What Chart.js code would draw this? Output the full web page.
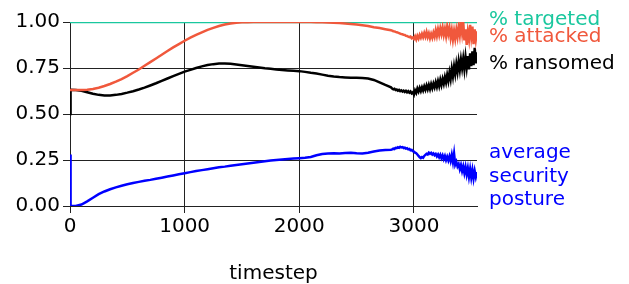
<!DOCTYPE html>
<html>
<head>
<meta charset="utf-8">
<script src="https://cdn.jsdelivr.net/npm/chart.js@4.4.1/dist/chart.umd.min.js"></script>
<style>
  html, body { margin: 0; padding: 0; background: #fff; }
  #wrap { width: 629px; height: 284px; }
</style>
</head>
<body>
<div id="wrap"><canvas id="simChart" width="629" height="284"></canvas></div>
<script>
const timesteps = [
  0, 5, 50, 100, 150, 200, 250, 300, 350, 400,
  450, 500, 550, 600, 650, 700, 750, 800, 850, 900,
  950, 1000, 1050, 1100, 1150, 1200, 1250, 1300, 1350, 1400,
  1450, 1500, 1550, 1600, 1650, 1700, 1750, 1800, 1850, 1900,
  1950, 2000, 2050, 2100, 2150, 2200, 2250, 2300, 2350, 2400,
  2450, 2500, 2550, 2600, 2650, 2700, 2750, 2800,
  2810, 2820, 2830, 2840, 2850, 2860, 2870, 2880, 2890, 2900,
  2910, 2920, 2930, 2940, 2950, 2960, 2970, 2980, 2990, 3000,
  3010, 3020, 3030, 3040, 3050, 3060, 3070, 3080, 3090, 3100,
  3110, 3120, 3130, 3140, 3150, 3160, 3170, 3180, 3190, 3200,
  3210, 3220, 3230, 3240, 3250, 3260, 3270, 3280, 3290, 3300,
  3310, 3320, 3330, 3340, 3350, 3360, 3370, 3380, 3390, 3400,
  3410, 3420, 3430, 3440, 3450, 3460, 3470, 3480, 3490, 3500,
  3510, 3520, 3530, 3540, 3550
];

const targetedSteps = [0, 3550];
const pctTargeted = [1.0, 1.0];

const pctAttacked = [
  0.630, 0.630, 0.630, 0.630, 0.632, 0.636, 0.643, 0.652, 0.663, 0.676,
  0.690, 0.706, 0.724, 0.742, 0.762, 0.782, 0.802, 0.822, 0.842, 0.862,
  0.880, 0.898, 0.915, 0.930, 0.944, 0.957, 0.968, 0.978, 0.986, 0.992,
  0.996, 0.998, 0.999, 1.000, 1.000, 1.000, 1.000, 1.000, 1.000, 1.000,
  1.000, 1.000, 1.000, 1.000, 0.999, 0.998, 0.997, 0.996, 0.994, 0.992,
  0.989, 0.986, 0.982, 0.978, 0.972, 0.967, 0.961, 0.955,
  0.953, 0.950, 0.949, 0.946, 0.944, 0.942, 0.940, 0.937, 0.934, 0.933,
  0.930, 0.929, 0.925, 0.924, 0.920, 0.918, 0.921, 0.912, 0.916, 0.908,
  0.922, 0.905, 0.925, 0.910, 0.930, 0.915, 0.935, 0.918, 0.940, 0.920,
  0.945, 0.918, 0.938, 0.912, 0.935, 0.915, 0.942, 0.920, 0.955, 0.925,
  0.960, 0.930, 0.965, 0.935, 0.970, 0.930, 0.962, 0.925, 0.975, 0.935,
  0.968, 0.915, 0.955, 0.905, 0.950, 0.910, 0.958, 0.920, 0.975, 0.930,
  0.995, 0.940, 1.000, 0.900, 0.960, 0.875, 0.945, 0.905, 0.985, 0.920,
  0.975, 0.880, 0.960, 0.905, 0.950
];

const pctRansomed = [
  0.500, 0.632, 0.631, 0.626, 0.618, 0.610, 0.604, 0.601, 0.601, 0.604,
  0.609, 0.616, 0.624, 0.633, 0.643, 0.655, 0.667, 0.680, 0.693, 0.706,
  0.718, 0.730, 0.740, 0.750, 0.759, 0.766, 0.771, 0.774, 0.775, 0.773,
  0.769, 0.765, 0.761, 0.757, 0.753, 0.749, 0.746, 0.742, 0.739, 0.737,
  0.735, 0.733, 0.729, 0.724, 0.720, 0.714, 0.708, 0.704, 0.701, 0.699,
  0.697, 0.697, 0.696, 0.693, 0.685, 0.672, 0.658, 0.645,
  0.638, 0.634, 0.637, 0.630, 0.633, 0.627, 0.631, 0.624, 0.628, 0.622,
  0.627, 0.620, 0.626, 0.618, 0.624, 0.616, 0.622, 0.612, 0.618, 0.605,
  0.628, 0.615, 0.638, 0.622, 0.642, 0.625, 0.645, 0.628, 0.650, 0.632,
  0.655, 0.635, 0.658, 0.636, 0.662, 0.640, 0.665, 0.645, 0.672, 0.648,
  0.678, 0.652, 0.685, 0.658, 0.690, 0.665, 0.700, 0.672, 0.712, 0.680,
  0.725, 0.690, 0.745, 0.705, 0.758, 0.718, 0.772, 0.730, 0.785, 0.740,
  0.795, 0.750, 0.800, 0.745, 0.810, 0.755, 0.815, 0.742, 0.830, 0.760,
  0.840, 0.765, 0.860, 0.775, 0.835
];

const avgSecurity = [
  0.280, 0.000, 0.000, 0.008, 0.025, 0.045, 0.064, 0.079, 0.091, 0.101,
  0.110, 0.118, 0.125, 0.131, 0.137, 0.142, 0.148, 0.154, 0.160, 0.166,
  0.172, 0.178, 0.184, 0.190, 0.195, 0.200, 0.205, 0.210, 0.214, 0.219,
  0.223, 0.227, 0.231, 0.235, 0.239, 0.243, 0.247, 0.250, 0.253, 0.256,
  0.258, 0.260, 0.262, 0.266, 0.276, 0.283, 0.285, 0.287, 0.285, 0.288,
  0.290, 0.287, 0.286, 0.289, 0.296, 0.302, 0.304, 0.306,
  0.308, 0.312, 0.310, 0.316, 0.314, 0.319, 0.316, 0.322, 0.318, 0.320,
  0.315, 0.317, 0.312, 0.314, 0.308, 0.310, 0.303, 0.305, 0.298, 0.296,
  0.290, 0.287, 0.280, 0.272, 0.265, 0.260, 0.266, 0.262, 0.272, 0.278,
  0.284, 0.280, 0.290, 0.284, 0.289, 0.280, 0.286, 0.276, 0.283, 0.270,
  0.280, 0.265, 0.278, 0.260, 0.275, 0.255, 0.272, 0.250, 0.268, 0.248,
  0.270, 0.245, 0.278, 0.240, 0.285, 0.225, 0.240, 0.215, 0.228, 0.200,
  0.222, 0.190, 0.215, 0.180, 0.212, 0.172, 0.205, 0.160, 0.200, 0.155,
  0.195, 0.150, 0.190, 0.158, 0.185
];

const xTicks = [0, 1000, 2000, 3000];
const yTicks = [0, 0.25, 0.5, 0.75, 1.0];

const TEAL = '#1ac79e';
const ORANGE = '#f0583c';
const BLUE = '#0000ff';
const FONT = '"DejaVu Sans", sans-serif';

// labels to the right of the plot, placed on the y scale
const sideLabels = [
  { lines: ['% targeted'], y: 1.012, color: TEAL },
  { lines: ['% attacked'], y: 0.921, color: ORANGE },
  { lines: ['% ransomed'], y: 0.774, color: '#000' },
  { lines: ['average', 'security', 'posture'], y: 0.287, color: BLUE }
];

const toPoints = (xs, ys) => xs.map((x, i) => ({ x: x, y: ys[i] }));

const sideLabelPlugin = {
  id: 'sideLabels',
  afterDraw(chart) {
    const { ctx, chartArea, scales } = chart;
    ctx.save();
    ctx.font = '20px ' + FONT;
    ctx.textAlign = 'left';
    ctx.textBaseline = 'middle';
    sideLabels.forEach(lbl => {
      const y0 = scales.y.getPixelForValue(lbl.y);
      ctx.fillStyle = lbl.color;
      lbl.lines.forEach((t, i) => {
        ctx.fillText(t, chartArea.right + 12, y0 + i * 23.5);
      });
    });
    ctx.restore();
  }
};

const lineStyle = {
  pointRadius: 0,
  borderWidth: 2.5,
  tension: 0,
  fill: false
};

new Chart(document.getElementById('simChart'), {
  type: 'line',
  data: {
    datasets: [
      { ...lineStyle, label: '% attacked', data: toPoints(timesteps, pctAttacked), borderColor: ORANGE, order: 0 },
      { ...lineStyle, label: '% targeted', data: toPoints(targetedSteps, pctTargeted), borderColor: TEAL, order: 1 },
      { ...lineStyle, label: '% ransomed', data: toPoints(timesteps, pctRansomed), borderColor: '#000', order: 0 },
      { ...lineStyle, label: 'average security posture', data: toPoints(timesteps, avgSecurity), borderColor: BLUE, order: 0 }
    ]
  },
  options: {
    responsive: false,
    animation: false,
    layout: { padding: { top: 22, right: 152, left: 0, bottom: 0 } },
    plugins: {
      legend: { display: false },
      tooltip: { enabled: false }
    },
    scales: {
      x: {
        type: 'linear',
        min: 0,
        max: 3550,
        afterFit: (scale) => { scale.height = 78; },
        afterBuildTicks: (scale) => { scale.ticks = xTicks.map(v => ({ value: v })); },
        grid: {
          color: '#222',
          lineWidth: 1,
          tickLength: 7,
          drawTicks: true
        },
        border: { color: '#222', width: 1 },
        ticks: {
          color: '#000',
          padding: 2,
          maxRotation: 0,
          autoSkip: false,
          font: { family: FONT, size: 20 },
          callback: (v) => String(v)
        },
        title: {
          display: true,
          text: 'timestep',
          color: '#000',
          font: { family: FONT, size: 20 },
          padding: { top: 20, bottom: -2 }
        }
      },
      y: {
        min: 0,
        max: 1,
        afterFit: (scale) => { scale.width = 70; },
        afterBuildTicks: (scale) => { scale.ticks = yTicks.map(v => ({ value: v })); },
        grid: {
          color: '#222',
          lineWidth: 1,
          tickLength: 7,
          drawTicks: true
        },
        border: { color: '#222', width: 1 },
        ticks: {
          color: '#000',
          padding: 3,
          font: { family: FONT, size: 20 },
          callback: (v) => Number(v).toFixed(2)
        }
      }
    }
  },
  plugins: [sideLabelPlugin]
});
</script>
</body>
</html>
